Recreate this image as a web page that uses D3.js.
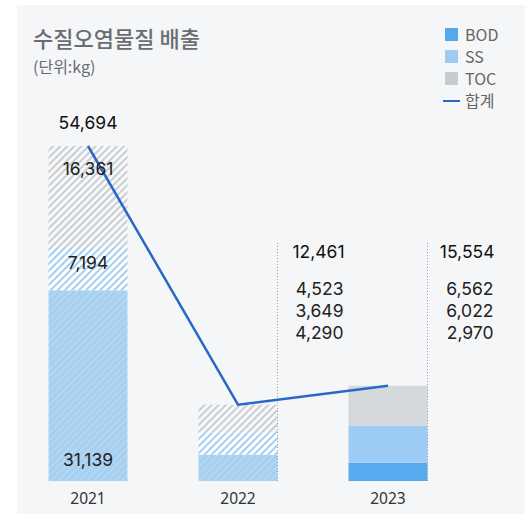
<!DOCTYPE html>
<html>
<head>
<meta charset="utf-8">
<script src="https://cdn.jsdelivr.net/npm/d3@7"></script>
<style>
  html, body { margin: 0; padding: 0; background: #fff; }
  svg { display: block; }
</style>
</head>
<body>
<div id="chart"></div>
<script>
const years = ["2021", "2022", "2023"];
const bod = [31139, 4290, 2970];
const ss = [7194, 3649, 6022];
const toc = [16361, 4523, 6562];
const totals = [54694, 12461, 15554];
const hatched = [true, true, false];
const legendItems = ["BOD", "SS", "TOC", "합계"];

const W = 525, H = 514;
const numFont = "Inter, 'Noto Sans', sans-serif";
const krFont = "'Noto Sans CJK KR', 'Noto Sans', sans-serif";

const svg = d3.select("#chart").append("svg").attr("width", W).attr("height", H);

svg.append("rect").attr("x", 17).attr("y", 5).attr("width", W - 17).attr("height", H - 5)
  .attr("fill", "#f5f6f8");

const defs = svg.append("defs");
function stripes(id, bg, fg) {
  const p = defs.append("pattern").attr("id", id)
    .attr("patternUnits", "userSpaceOnUse")
    .attr("width", 5).attr("height", 5)
    .attr("patternTransform", "rotate(45)");
  p.append("rect").attr("width", 5).attr("height", 5).attr("fill", bg);
  p.append("rect").attr("width", 2).attr("height", 5).attr("fill", fg);
}
stripes("hatch-toc", "#f7f8f9", "#cbced1");
stripes("hatch-ss", "#ffffff", "#a4cef0");
stripes("hatch-bod", "#a6cff0", "#b2d7f3");

const solid = { BOD: "#57aaed", SS: "#9ccbf4", TOC: "#d6d9dc" };
const hatchFill = { BOD: "url(#hatch-bod)", SS: "url(#hatch-ss)", TOC: "url(#hatch-toc)" };

const x = d3.scaleBand().domain(years).range([48.5, 427.5]).paddingInner(0.4733).paddingOuter(0);
const y = d3.scaleLinear().domain([0, d3.max(totals)]).range([481, 146]);

// stacked data
const rows = years.map((yr, i) => ({ year: yr, BOD: bod[i], SS: ss[i], TOC: toc[i], i }));
const stack = d3.stack().keys(["BOD", "SS", "TOC"])(rows);

const bars = svg.append("g");
stack.forEach(layer => {
  bars.selectAll(null).data(layer).enter().append("rect")
    .attr("x", d => x(d.data.year))
    .attr("width", x.bandwidth())
    .attr("y", d => y(d[1]))
    .attr("height", d => y(d[0]) - y(d[1]))
    .attr("fill", d => hatched[d.data.i] ? hatchFill[layer.key] : solid[layer.key]);
});

// dotted guides for 2022, 2023
const labelled = years.slice(1);
svg.append("g").selectAll("line").data(labelled).enter().append("line")
  .attr("x1", d => x(d) + x.bandwidth()).attr("x2", d => x(d) + x.bandwidth())
  .attr("y1", 243).attr("y2", 481)
  .attr("stroke", "#9a9da1").attr("stroke-width", 1).attr("stroke-dasharray", "1,2");

// total line
const line = d3.line().x(d => x(d.year) + x.bandwidth() / 2).y(d => y(d.total));
svg.append("path")
  .datum(years.map((yr, i) => ({ year: yr, total: totals[i] })))
  .attr("d", line).attr("fill", "none")
  .attr("stroke", "#2869c7").attr("stroke-width", 2.5);

// labels 2021 inside bars
const fmt = d3.format(",");
const cx0 = x(years[0]) + x.bandwidth() / 2;
const lbl = svg.append("g").attr("font-family", numFont).attr("fill", "#222")
  .attr("font-size", 17.5).attr("text-anchor", "middle");
lbl.append("text").attr("x", cx0).attr("y", 129).attr("fill", "#111").text(fmt(totals[0]));
lbl.append("text").attr("x", cx0).attr("y", 175).text(fmt(toc[0]));
lbl.append("text").attr("x", cx0).attr("y", 269).text(fmt(ss[0]));
lbl.append("text").attr("x", cx0).attr("y", 466).text(fmt(bod[0]));

// labels 2022, 2023 to the right of guides
[1, 2].forEach(i => {
  const rx = x(years[i]) + x.bandwidth() + 67;
  const g = svg.append("g").attr("font-family", numFont).attr("fill", "#222")
    .attr("font-size", 17.5).attr("text-anchor", "end");
  g.append("text").attr("x", rx).attr("y", 258).attr("fill", "#111").text(fmt(totals[i]));
  [toc[i], ss[i], bod[i]].forEach((v, k) => {
    g.append("text").attr("x", rx - 1).attr("y", 295 + k * 22).text(fmt(v));
  });
});

// x axis labels
svg.append("g").selectAll("text").data(years).enter().append("text")
  .attr("x", d => x(d) + x.bandwidth() / 2).attr("y", 504)
  .attr("text-anchor", "middle").attr("font-family", "'Noto Sans', sans-serif")
  .attr("font-size", 15.5).attr("fill", "#333").text(d => d);

// title
svg.append("text").attr("x", 33).attr("y", 47).attr("font-family", krFont)
  .attr("font-size", 22).attr("font-weight", 500).attr("fill", "#6a6d72").text("수질오염물질 배출");
svg.append("text").attr("x", 33).attr("y", 73).attr("font-family", krFont)
  .attr("font-size", 16).attr("fill", "#6a6d72").text("(단위:kg)");

// legend
const legendColors = ["#55a8ec", "#9dcbf3", "#c8cbce"];
const lg = svg.append("g").attr("font-family", krFont).attr("font-size", 16).attr("fill", "#666");
legendItems.forEach((name, i) => {
  const yy = 28 + i * 22;
  if (i < 3) {
    lg.append("rect").attr("x", 445).attr("y", yy).attr("width", 13).attr("height", 13)
      .attr("fill", legendColors[i]);
  } else {
    lg.append("line").attr("x1", 443).attr("x2", 460).attr("y1", yy + 7).attr("y2", yy + 7)
      .attr("stroke", "#2869c7").attr("stroke-width", 2);
  }
  lg.append("text").attr("x", 465).attr("y", yy + 13).text(name);
});
</script>
</body>
</html>
